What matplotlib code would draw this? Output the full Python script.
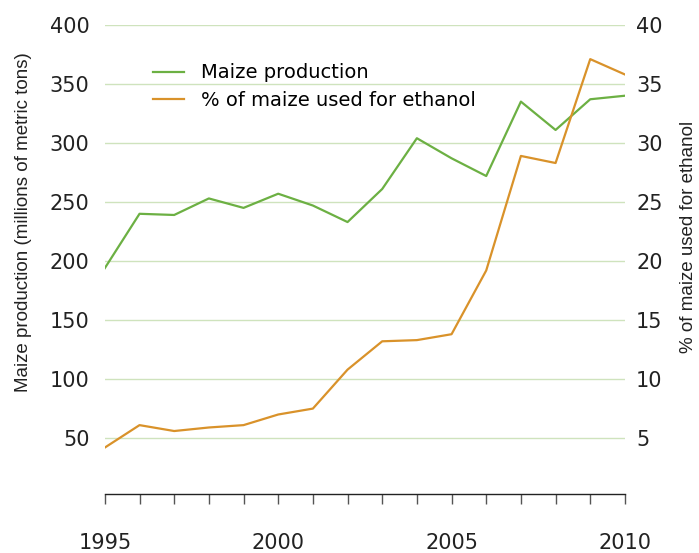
import matplotlib
matplotlib.use("Agg")
import matplotlib.pyplot as plt

years = list(range(1995, 2011))
production = [194, 240, 239, 253, 245, 257, 247, 233, 261, 304, 287, 272, 335, 311, 337, 340]
ethanol_pct = [4.2, 6.1, 5.6, 5.9, 6.1, 7.0, 7.5, 10.8, 13.2, 13.3, 13.8, 19.2, 28.9, 28.3, 37.1, 35.8]
left_ticks = [50, 100, 150, 200, 250, 300, 350, 400]
right_ticks = [5, 10, 15, 20, 25, 30, 35, 40]
x_labels = [1995, 2000, 2005, 2010]

green = "#6cb043"
orange = "#d9922a"
grid_c = "#cfe3bd"
text_c = "#222222"

plt.rcParams['font.family'] = ['DejaVu Sans']

fig = plt.figure(figsize=(6.99, 5.53), dpi=100)
ax = fig.add_axes([0.150, 0.101, 0.744, 0.854])
ax2 = ax.twinx()

for t in left_ticks:
    ax.axhline(t, color=grid_c, lw=1, zorder=0)

l1, = ax.plot(years, production, color=green, lw=1.6, label="Maize production")
l2, = ax2.plot(years, ethanol_pct, color=orange, lw=1.6, label="% of maize used for ethanol")

ax.set_xlim(1995, 2010)
ax.set_ylim(0, 400)
ax2.set_ylim(0, 40)

ax.set_yticks(left_ticks)
ax2.set_yticks(right_ticks)
ax.set_xticks(years)
ax.set_xticklabels([str(y) if y in x_labels else "" for y in years])

for a in (ax, ax2):
    for s in ("top", "left", "right"):
        a.spines[s].set_visible(False)
ax2.spines["bottom"].set_visible(False)
ax.spines["bottom"].set_linewidth(1.0)
ax.spines["bottom"].set_color(text_c)
ax.spines["bottom"].set_position(("outward", -2))

ax.tick_params(axis="x", direction="out", length=7, width=1, color="#555555",
               labelsize=15, pad=21, labelcolor=text_c)
ax.tick_params(axis="y", length=0, labelsize=15, pad=11, labelcolor=text_c)
ax2.tick_params(axis="y", length=0, labelsize=15, pad=8, labelcolor=text_c)

lab_font = ['Liberation Sans', 'DejaVu Sans']
ax.set_ylabel("Maize production (millions of metric tons)", fontsize=13.5,
              color=text_c, family=lab_font)
ax2.set_ylabel("% of maize used for ethanol", fontsize=13.5, color=text_c,
               family=lab_font)
ax.yaxis.set_label_coords(-0.140, 0.583)
ax2.yaxis.set_label_coords(1.106, 0.551)

leg = ax.legend(handles=[l1, l2], loc="upper left", bbox_to_anchor=(0.077, 0.935),
                frameon=False, fontsize=14, handlelength=1.6, handletextpad=0.9,
                labelspacing=0.45, borderaxespad=0)

fig.savefig("out.png", dpi=100)
